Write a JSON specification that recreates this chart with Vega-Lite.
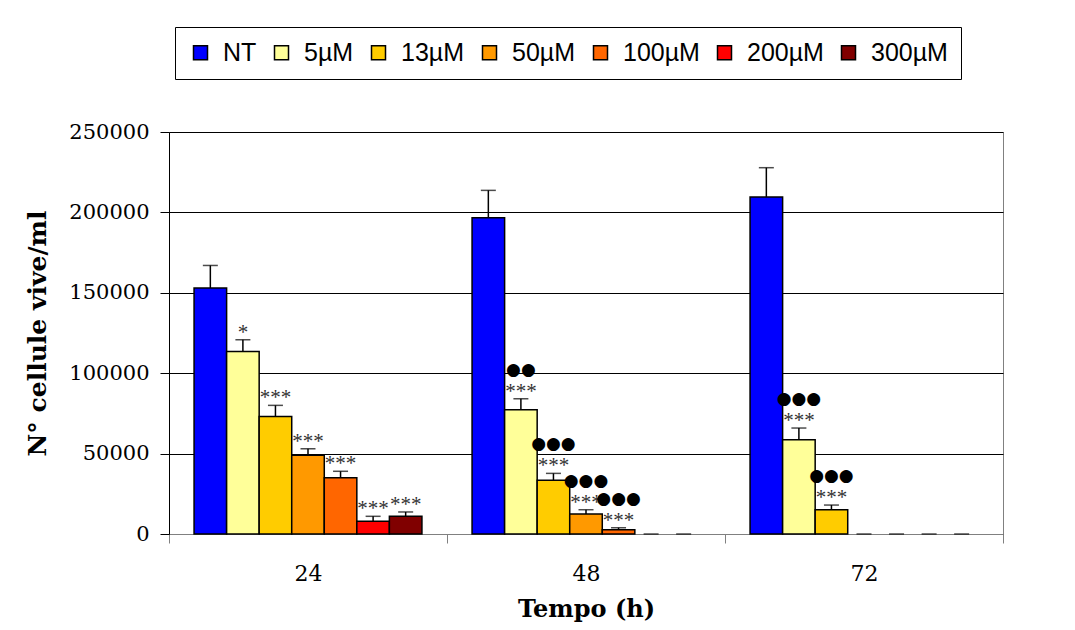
{
  "$schema": "https://vega.github.io/schema/vega-lite/v6.json",
  "width": 834,
  "height": 402,
  "autosize": {"type": "none"},
  "padding": {"left": 169, "top": 132, "right": 72, "bottom": 96},
  "background": "white",
  "config": {"view": {"stroke": "#808080", "strokeWidth": 1}},
  "data": {
    "values": [
      {"Tempo": "24", "conc": "NT", "mean": 153000, "hi": 167000, "stars": "", "dots": ""},
      {"Tempo": "24", "conc": "5µM", "mean": 113500, "hi": 120800, "stars": "*", "dots": ""},
      {"Tempo": "24", "conc": "13µM", "mean": 73000, "hi": 80000, "stars": "***", "dots": ""},
      {"Tempo": "24", "conc": "50µM", "mean": 49000, "hi": 53000, "stars": "***", "dots": ""},
      {"Tempo": "24", "conc": "100µM", "mean": 35000, "hi": 39000, "stars": "***", "dots": ""},
      {"Tempo": "24", "conc": "200µM", "mean": 8000, "hi": 11000, "stars": "***", "dots": ""},
      {"Tempo": "24", "conc": "300µM", "mean": 11000, "hi": 13700, "stars": "***", "dots": ""},
      {"Tempo": "48", "conc": "NT", "mean": 196700, "hi": 213700, "stars": "", "dots": ""},
      {"Tempo": "48", "conc": "5µM", "mean": 77300, "hi": 84100, "stars": "***", "dots": "●●"},
      {"Tempo": "48", "conc": "13µM", "mean": 33400, "hi": 37700, "stars": "***", "dots": "●●●"},
      {"Tempo": "48", "conc": "50µM", "mean": 12400, "hi": 15100, "stars": "***", "dots": "●●●"},
      {"Tempo": "48", "conc": "100µM", "mean": 2700, "hi": 3900, "stars": "***", "dots": "●●●"},
      {"Tempo": "48", "conc": "200µM", "mean": 0, "hi": 0, "stars": "", "dots": ""},
      {"Tempo": "48", "conc": "300µM", "mean": 0, "hi": 0, "stars": "", "dots": ""},
      {"Tempo": "72", "conc": "NT", "mean": 209600, "hi": 227800, "stars": "", "dots": ""},
      {"Tempo": "72", "conc": "5µM", "mean": 58600, "hi": 65900, "stars": "***", "dots": "●●●"},
      {"Tempo": "72", "conc": "13µM", "mean": 15100, "hi": 18000, "stars": "***", "dots": "●●●"},
      {"Tempo": "72", "conc": "50µM", "mean": 0, "hi": 0, "stars": "", "dots": ""},
      {"Tempo": "72", "conc": "100µM", "mean": 0, "hi": 0, "stars": "", "dots": ""},
      {"Tempo": "72", "conc": "200µM", "mean": 0, "hi": 0, "stars": "", "dots": ""},
      {"Tempo": "72", "conc": "300µM", "mean": 0, "hi": 0, "stars": "", "dots": ""}
    ]
  },
  "encoding": {
    "x": {
      "field": "Tempo",
      "type": "nominal",
      "sort": ["24", "48", "72"],
      "scale": {"paddingInner": 0, "paddingOuter": 0},
      "axis": {
        "title": "Tempo (h)",
        "labelAngle": 0,
        "tickBand": "extent",
        "tickSize": 9,
        "domainColor": "#808080",
        "tickColor": "#808080",
        "labelFont": "DejaVu Serif",
        "labelFontSize": 22,
        "labelColor": "black",
        "labelPadding": 20,
        "titleFont": "DejaVu Serif",
        "titleFontWeight": "bold",
        "titleFontSize": 24,
        "titleColor": "black",
        "titlePadding": 13
      }
    },
    "xOffset": {
      "field": "conc",
      "type": "nominal",
      "sort": ["NT", "5µM", "13µM", "50µM", "100µM", "200µM", "300µM"],
      "scale": {"paddingInner": 0, "paddingOuter": 0.77}
    }
  },
  "layer": [
    {
      "transform": [{"filter": "datum.mean > 0"}],
      "mark": {"type": "bar", "stroke": "black", "strokeWidth": 1.5},
      "encoding": {
        "y": {
          "field": "mean",
          "type": "quantitative",
          "title": "N° cellule vive/ml",
          "scale": {"domain": [0, 250000], "nice": false},
          "axis": {
            "values": [0, 50000, 100000, 150000, 200000, 250000],
            "format": "d",
            "grid": true,
            "gridColor": "#000000",
            "gridWidth": 1,
            "domainColor": "#000000",
            "tickColor": "#000000",
            "tickSize": 9,
            "labelFont": "DejaVu Serif",
            "labelFontSize": 21,
            "labelColor": "black",
            "labelPadding": 11,
            "titleFont": "DejaVu Serif",
            "titleFontWeight": "bold",
            "titleFontSize": 25,
            "titleColor": "black",
            "titlePadding": 18
          }
        },
        "color": {
          "field": "conc",
          "type": "nominal",
          "scale": {
            "domain": ["NT", "5µM", "13µM", "50µM", "100µM", "200µM", "300µM"],
            "range": ["#0000FF", "#FFFF99", "#FFCC00", "#FF9900", "#FF6600", "#FF0000", "#800000"]
          },
          "legend": {
            "orient": "none",
            "legendX": 6,
            "legendY": -105,
            "direction": "horizontal",
            "columns": 7,
            "title": null,
            "symbolType": "square",
            "symbolSize": 196,
            "symbolStrokeColor": "black",
            "symbolStrokeWidth": 1.5,
            "symbolOpacity": 1,
            "labelFont": "Liberation Sans",
            "labelFontSize": 25,
            "labelColor": "black",
            "labelLimit": 300,
            "labelOffset": 10,
            "columnPadding": 12,
            "padding": 13,
            "fillColor": "white",
            "strokeColor": "black"
          }
        }
      }
    },
    {
      "mark": {"type": "rule", "color": "black", "strokeWidth": 1.5},
      "encoding": {
        "y": {"field": "mean", "type": "quantitative", "title": "N° cellule vive/ml"},
        "y2": {"field": "hi"}
      }
    },
    {
      "mark": {"type": "tick", "orient": "horizontal", "color": "black", "thickness": 1.5, "size": 15},
      "encoding": {
        "y": {"field": "hi", "type": "quantitative", "title": "N° cellule vive/ml"}
      }
    },
    {
      "mark": {"type": "text", "font": "Liberation Serif", "fontSize": 21, "color": "#333333", "baseline": "alphabetic", "dy": -1},
      "encoding": {
        "y": {"field": "hi", "type": "quantitative", "title": "N° cellule vive/ml"},
        "text": {"field": "stars"}
      }
    },
    {
      "mark": {"type": "text", "font": "DejaVu Sans", "fontSize": 17, "color": "black", "baseline": "alphabetic", "dy": -24},
      "encoding": {
        "y": {"field": "hi", "type": "quantitative", "title": "N° cellule vive/ml"},
        "text": {"field": "dots"}
      }
    }
  ]
}
